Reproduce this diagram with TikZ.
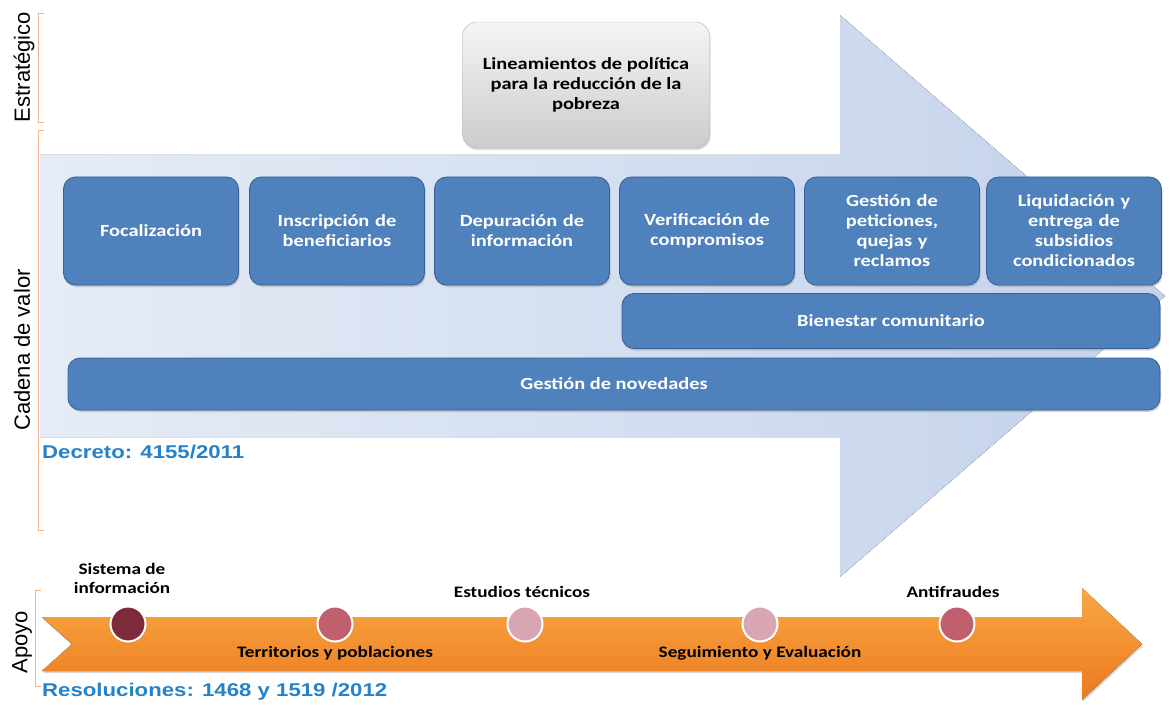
\documentclass[tikz,border=0pt]{standalone}
\usepackage{fontspec}
\setmainfont{Carlito}[FakeStretch=1.2]
\newfontfamily\sidefont{Liberation Sans}
\newfontfamily\notefont{Liberation Sans}[FakeStretch=1.2]
\usepackage{tikz}
\usetikzlibrary{shadows}
\definecolor{BoxBlue}{RGB}{79,129,189}
\definecolor{BoxEdge}{RGB}{56,96,148}
\definecolor{ShaftBlue}{RGB}{195,210,235}
\definecolor{ShaftPale}{RGB}{230,236,246}
\definecolor{LineOrange}{RGB}{240,180,140}
\definecolor{BarTop}{RGB}{250,168,70}
\definecolor{BarLow}{RGB}{234,122,30}
\definecolor{NoteBlue}{RGB}{38,130,200}
\definecolor{DotDark}{RGB}{125,42,58}
\definecolor{DotMid}{RGB}{192,96,110}
\definecolor{DotPale}{RGB}{216,166,178}
\tikzstyle{none}=[inner sep=0pt]
\tikzstyle{bracket}=[-,draw=LineOrange,line width=0.9pt]
\tikzstyle{bigarrow}=[left color=ShaftPale,right color=ShaftBlue]
\tikzstyle{bar}=[top color=BarTop,bottom color=BarLow,drop shadow={opacity=0.3,shadow xshift=1pt,shadow yshift=-2pt}]
\tikzstyle{stage}=[draw=BoxEdge,line width=0.8pt,fill=BoxBlue,rounded corners=12pt,text=white,font=\bfseries\fontsize{17}{20}\selectfont,align=center,minimum height=108pt,minimum width=175pt,text width=165pt,drop shadow={opacity=0.35,shadow xshift=1pt,shadow yshift=-2pt}]
\tikzstyle{band}=[stage,minimum height=55pt,text width=]
\tikzstyle{policy}=[draw=gray!60,top color=gray!8,bottom color=gray!40,rounded corners=14pt,font=\bfseries\fontsize{17}{20}\selectfont,align=center,minimum width=247pt,minimum height=126pt,drop shadow={opacity=0.3,shadow xshift=1pt,shadow yshift=-2pt}]
\tikzstyle{side}=[inner sep=0pt,rotate=90,font=\sidefont\fontsize{22}{24}\selectfont]
\tikzstyle{note}=[inner sep=0pt,anchor=west,text=NoteBlue,font=\notefont\bfseries\fontsize{18.5}{22}\selectfont]
\tikzstyle{dot}=[circle,draw=white,line width=2pt,minimum size=35pt,inner sep=0pt]
\tikzstyle{tag}=[inner sep=0pt,align=center,font=\bfseries\fontsize{16}{19}\selectfont]

\begin{document}
\begin{tikzpicture}[x=1pt,y=-1pt]
  \useasboundingbox (0,0) rectangle (1171,706);
  % big value-chain arrow
  \node [style=none] (0) at (40, 155) {};
  \node [style=none] (1) at (840, 155) {};
  \node [style=none] (2) at (840, 15) {};
  \node [style=none] (3) at (1165, 296) {};
  \node [style=none] (4) at (840, 577) {};
  \node [style=none] (5) at (840, 437) {};
  \node [style=none] (6) at (40, 437) {};
  \fill [style=bigarrow] (0.center) to (1.center) to (2.center) to (3.center)
    to (4.center) to (5.center) to (6.center) -- cycle;
  % support arrow
  \node [style=none] (7) at (42, 617) {};
  \node [style=none] (8) at (1082, 617) {};
  \node [style=none] (9) at (1082, 588) {};
  \node [style=none] (10) at (1142, 644) {};
  \node [style=none] (11) at (1082, 700) {};
  \node [style=none] (12) at (1082, 671) {};
  \node [style=none] (13) at (42, 671) {};
  \node [style=none] (14) at (72, 644) {};
  \fill [style=bar] (7.center) to (8.center) to (9.center) to (10.center)
    to (11.center) to (12.center) to (13.center) to (14.center) -- cycle;
  % brackets
  \node [style=none] (15) at (44, 13) {};
  \node [style=none] (16) at (38, 13) {};
  \node [style=none] (17) at (38, 122) {};
  \node [style=none] (18) at (44, 122) {};
  \node [style=none] (19) at (44, 130) {};
  \node [style=none] (20) at (38, 130) {};
  \node [style=none] (21) at (38, 530) {};
  \node [style=none] (22) at (44, 530) {};
  \node [style=none] (23) at (41, 590) {};
  \node [style=none] (24) at (35, 590) {};
  \node [style=none] (25) at (35, 686) {};
  \node [style=none] (26) at (41, 686) {};
  \draw [style=bracket] (15.center) to (16.center) to (17.center) to (18.center);
  \draw [style=bracket] (19.center) to (20.center) to (21.center) to (22.center);
  \draw [style=bracket] (23.center) to (24.center) to (25.center) to (26.center);
  % level names
  \node [style=side] (27) at (24, 67) {Estratégico};
  \node [style=side] (28) at (22, 350) {Cadena de valor};
  \node [style=side] (29) at (22, 642) {Apoyo};
  % strategic level
  \node [style=policy] (30) at (586, 85) {Lineamientos de política\\para la reducción de la\\pobreza};
  % value chain
  \node [style=stage] (31) at (151, 231) {Focalización};
  \node [style=stage] (32) at (337, 231) {Inscripción de\\beneficiarios};
  \node [style=stage] (33) at (522, 231) {Depuración de\\información};
  \node [style=stage] (34) at (707, 231) {Verificación de\\compromisos};
  \node [style=stage] (35) at (892, 231) {Gestión de\\peticiones,\\quejas y\\reclamos};
  \node [style=stage] (36) at (1074, 231) {Liquidación y\\entrega de\\subsidios\\condicionados};
  \node [style=band, minimum width=538pt] (37) at (891, 321) {Bienestar comunitario};
  \node [style=band, minimum width=1092pt, minimum height=52pt] (38) at (614, 384) {Gestión de novedades};
  \node [style=note] (39) at (42, 452) {Decreto: 4155/2011};
  % support level
  \node [style=dot, fill=DotDark] (40) at (128, 624) {};
  \node [style=dot, fill=DotMid] (41) at (335, 624) {};
  \node [style=dot, fill=DotPale] (42) at (525, 624) {};
  \node [style=dot, fill=DotPale] (43) at (760, 624) {};
  \node [style=dot, fill=DotMid] (44) at (957, 624) {};
  \node [style=tag] (45) at (122, 578) {Sistema de\\información};
  \node [style=tag] (46) at (335, 653) {Territorios y poblaciones};
  \node [style=tag] (47) at (522, 592) {Estudios técnicos};
  \node [style=tag] (48) at (760, 653) {Seguimiento y Evaluación};
  \node [style=tag] (49) at (953, 592) {Antifraudes};
  \node [style=note] (50) at (42, 692) {Resoluciones: 1468 y 1519 /2012};
\end{tikzpicture}
\end{document}
